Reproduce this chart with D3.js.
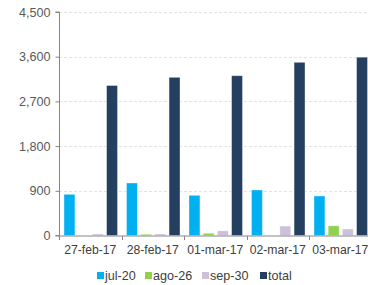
<!DOCTYPE html>
<html><head><meta charset="utf-8">
<script src="https://cdn.jsdelivr.net/npm/d3@7"></script>
<style>body{margin:0;background:#fff;}svg{display:block;font-family:"Liberation Sans",Arial,sans-serif;}</style>
</head><body><svg id="c" width="368" height="285"></svg>
<script>
const categories = ["27-feb-17","28-feb-17","01-mar-17","02-mar-17","03-mar-17"];
const seriesNames = ["jul-20","ago-26","sep-30","total"];
const jul20 = [829, 1057, 809, 916, 795];
const ago26 = [0, 25, 45, 0, 195];
const sep30 = [30, 30, 95, 190, 130];
const total = [3020, 3185, 3217, 3487, 3590];
const yTicks = [0, 900, 1800, 2700, 3600, 4500];
const colors = ["#00B0F0","#92D050","#CCC0DA","#243F60"];
const seriesValues = [jul20, ago26, sep30, total];

(function(){
const FS = "12.6px", FSX = "12.2px";
const svg = d3.select("#c");
const pL = 59, pR = 371.5, pT = 12, pB = 235.5;
const x0 = d3.scaleBand().domain(categories).range([pL, pR]).paddingInner(0).paddingOuter(0);
const x1 = d3.scaleBand().domain(seriesNames).range([5, x0.bandwidth()-4]).paddingInner(0.23).paddingOuter(0);
const y = d3.scaleLinear().domain([0, 4500]).range([pB, pT]);

// gridlines
svg.append("g").selectAll("line").data(yTicks.filter(d=>d>0)).join("line")
  .attr("x1", pL).attr("x2", 368).attr("y1", d=>Math.round(y(d))+0.5).attr("y2", d=>Math.round(y(d))+0.5)
  .attr("stroke", "#e3e3e3").attr("stroke-width", 1).attr("stroke-dasharray", "3,2");

// bars
const g = svg.append("g");
seriesNames.forEach((s, si) => {
  g.append("g").selectAll("rect").data(categories.map((c,i)=>({c, v: seriesValues[si][i]}))).join("rect")
    .attr("x", d => x0(d.c) + x1(s))
    .attr("width", x1.bandwidth())
    .attr("y", d => y(d.v))
    .attr("height", d => pB - y(d.v))
    .attr("fill", colors[si])
    .attr("stroke", "#ffffff").attr("stroke-opacity", 0.45).attr("stroke-width", 0.8);
});

// y axis
const yAxis = d3.axisLeft(y).tickValues(yTicks).tickFormat(d3.format(",")).tickSize(4).tickPadding(5);
const ya = svg.append("g").attr("transform", `translate(${pL+0.5},0)`).call(yAxis);
ya.select(".domain").attr("stroke", "#868686").attr("d", `M-4,${pT}H0V${pB}H-4`);
ya.selectAll(".tick line").attr("stroke", "#868686");
ya.selectAll("text").attr("fill", "#595959").style("font-size", FS).attr("font-family", "Liberation Sans, Arial, sans-serif");

// x axis
const xa = svg.append("g").attr("transform", `translate(0,${pB+0.5})`);
xa.append("line").attr("x1", pL).attr("x2", 368).attr("y1", 0).attr("y2", 0).attr("stroke", "#868686");
xa.selectAll("line.t").data(categories.map(c=>x0(c)).concat([pR])).join("line").attr("class","t")
  .attr("x1", d=>Math.round(d)+0.5).attr("x2", d=>Math.round(d)+0.5).attr("y1", 0).attr("y2", 4).attr("stroke", "#868686");
xa.selectAll("text").data(categories).join("text")
  .attr("x", d => x0(d) + x0.bandwidth()/2).attr("y", 18)
  .attr("text-anchor", "middle").attr("fill", "#404040").style("font-size", FSX).text(d=>d);

// legend
const legX = [97, 145, 202, 260];
const leg = svg.append("g");
seriesNames.forEach((s, i) => {
  leg.append("rect").attr("x", legX[i]).attr("y", 272).attr("width", 7).attr("height", 7).attr("fill", colors[i]);
  leg.append("text").attr("x", legX[i]+8).attr("y", 280).attr("fill", "#404040").style("font-size", FS).text(s);
});
})();
</script></body></html>
